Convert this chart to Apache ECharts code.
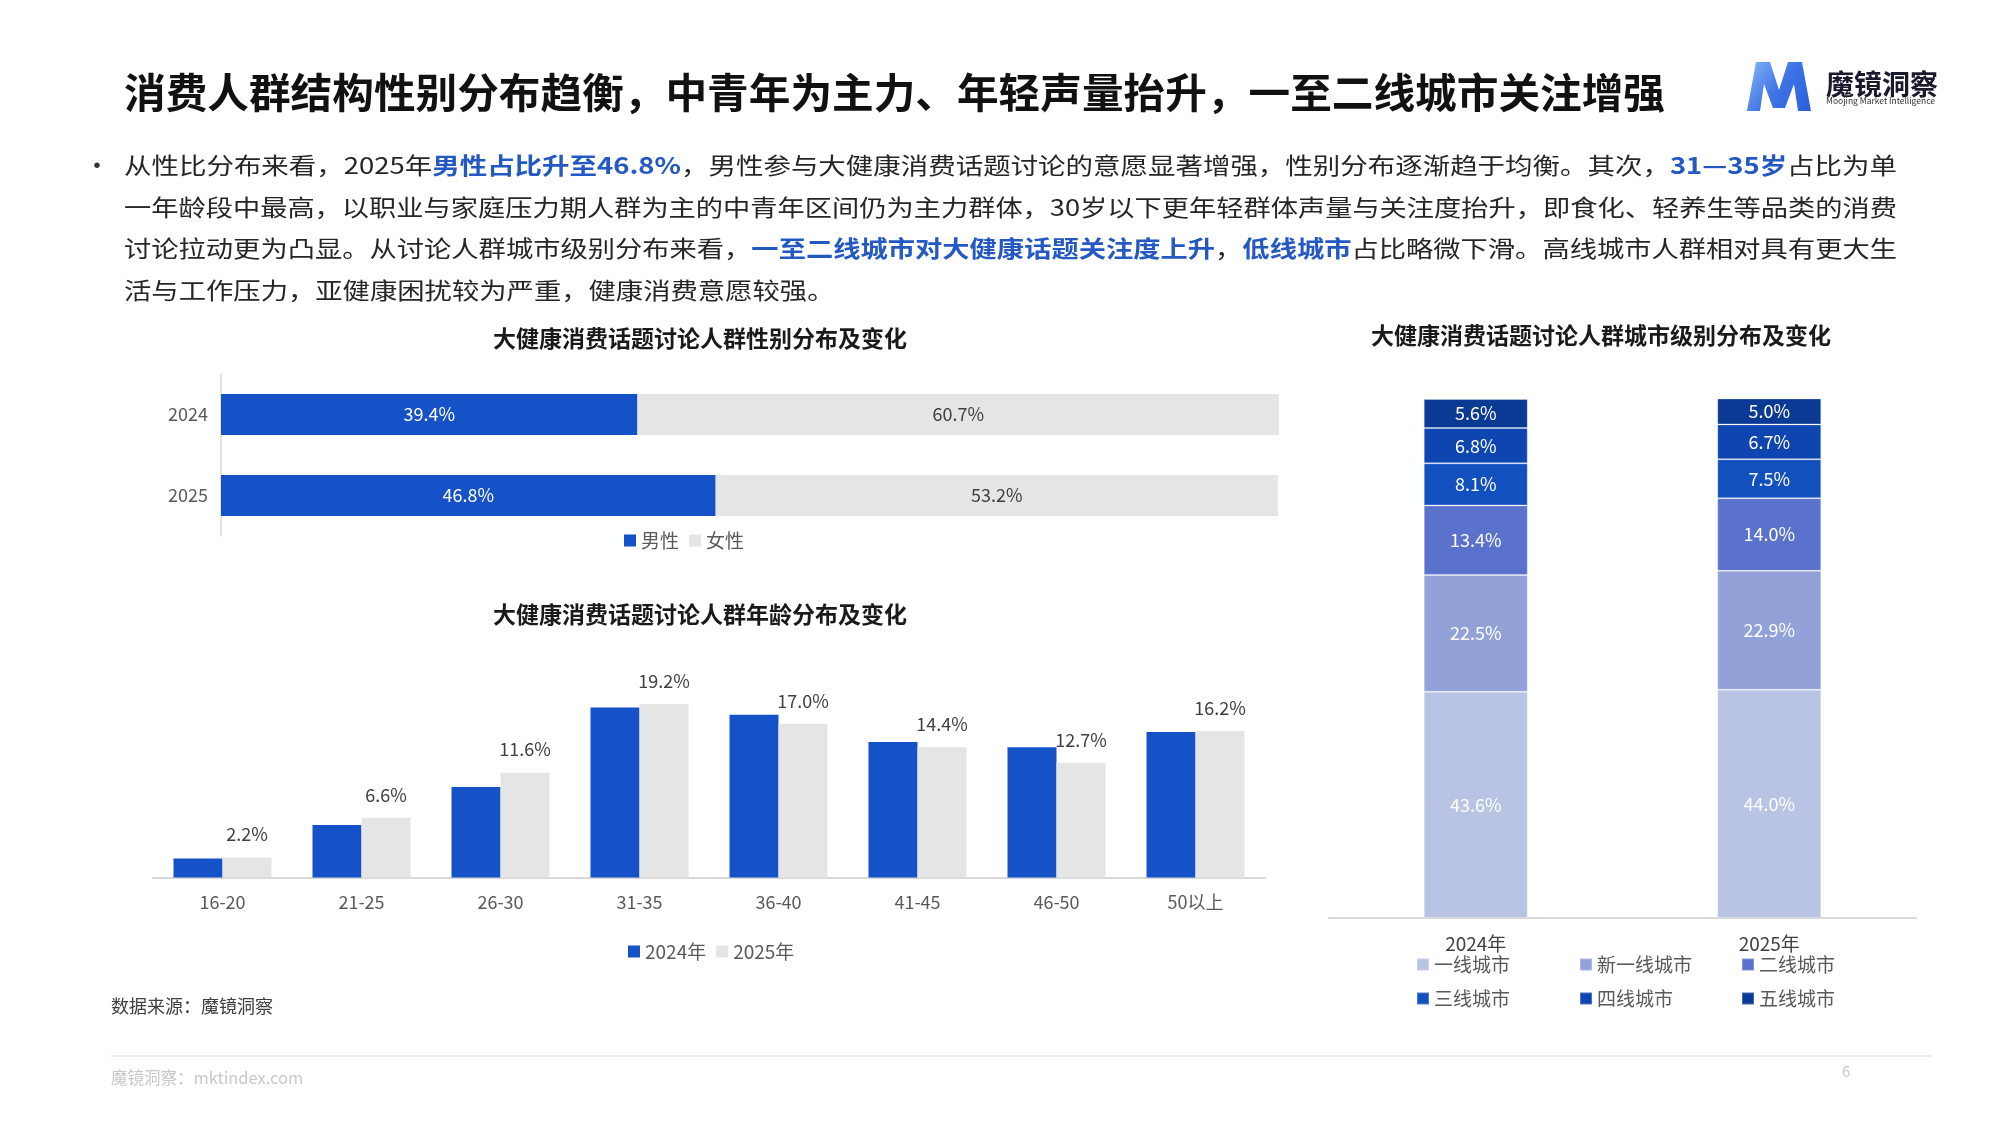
<!DOCTYPE html>
<html><head><meta charset="utf-8">
<script src="https://cdn.jsdelivr.net/npm/echarts@6/dist/echarts.min.js"></script>
<style>html,body{margin:0;padding:0;background:#fff}#c{width:2000px;height:1125px}</style>
</head><body><div id="c"></div>
<script>
// ---------- data ----------
const genderYears = ['2024', '2025'];
const maleShare = [39.4, 46.8];
const femaleShare = [60.7, 53.2];

const ageGroups = ['16-20', '21-25', '26-30', '31-35', '36-40', '41-45', '46-50', '50以上'];
const age2024 = [2.1, 5.8, 10.0, 18.8, 18.0, 15.0, 14.4, 16.1];
const age2025 = [2.2, 6.6, 11.6, 19.2, 17.0, 14.4, 12.7, 16.2];

const cityYears = ['2024年', '2025年'];
const cityTiers = ['一线城市', '新一线城市', '二线城市', '三线城市', '四线城市', '五线城市'];
const tier1 = [43.6, 44.0];
const tierNew1 = [22.5, 22.9];
const tier2 = [13.4, 14.0];
const tier3 = [8.1, 7.5];
const tier4 = [6.8, 6.7];
const tier5 = [5.6, 5.0];
const cityValues = [tier1, tierNew1, tier2, tier3, tier4, tier5];

// ---------- texts ----------
const mainTitle = '消费人群结构性别分布趋衡，中青年为主力、年轻声量抬升，一至二线城市关注增强';
const paraLines = [
  [['n', '从性比分布来看，2025年'], ['b', '男性占比升至46.8%'], ['n', '，男性参与大健康消费话题讨论的意愿显著增强，性别分布逐渐趋于均衡。其次，'], ['b', '31—35岁'], ['n', '占比为单']],
  [['n', '一年龄段中最高，以职业与家庭压力期人群为主的中青年区间仍为主力群体，30岁以下更年轻群体声量与关注度抬升，即食化、轻养生等品类的消费']],
  [['n', '讨论拉动更为凸显。从讨论人群城市级别分布来看，'], ['b', '一至二线城市对大健康话题关注度上升'], ['n', '，'], ['b', '低线城市'], ['n', '占比略微下滑。高线城市人群相对具有更大生']],
  [['n', '活与工作压力，亚健康困扰较为严重，健康消费意愿较强。']]
];

// ---------- styles ----------
const FONT = '"Noto Sans CJK SC","Noto Sans",sans-serif';
const BLUE = '#1552c7';
const GREY = '#e5e5e5';
const cityColors = ['#b9c3e3', '#93a1d9', '#5a72cc', '#1250c0', '#0f45b0', '#0b3a94'];

const mctx = document.createElement('canvas').getContext('2d');
function measure(t, size, weight) {
  mctx.font = (weight || 'normal') + ' ' + size + 'px ' + FONT;
  return mctx.measureText(t).width;
}

const PARA_SIZE = 23;
const graphics = [];

// main title
const titleSize = 41;
const tW = measure(mainTitle, titleSize, 'bold');
graphics.push({
  type: 'text', x: 124, y: 92, scaleX: 1541 / tW,
  style: { text: mainTitle, fontSize: titleSize, fontWeight: 'bold', fontFamily: FONT, fill: '#111', verticalAlign: 'middle', textAlign: 'left' }
});

// logo
graphics.push({
  type: 'polygon',
  shape: { points: [[1747, 111], [1756, 62], [1770, 62], [1779, 90], [1788, 62], [1802, 62], [1811, 111], [1798, 111], [1794, 84], [1785, 108], [1773, 108], [1764, 84], [1760, 111]] },
  style: { fill: new echarts.graphic.LinearGradient(0, 0, 1, 1, [{ offset: 0, color: '#86b6f8' }, { offset: 0.5, color: '#3f74e6' }, { offset: 1, color: '#2a5fd8' }]) }
});
graphics.push({ type: 'text', x: 1826, y: 84, style: { text: '魔镜洞察', fontSize: 28, fontWeight: 'bold', fontFamily: FONT, fill: '#1a1a2e', verticalAlign: 'middle' } });
graphics.push({ type: 'text', x: 1826, y: 101, style: { text: 'Moojing Market Intelligence', fontSize: 8.5, fontFamily: FONT, fill: '#333', verticalAlign: 'middle' } });

// bullet
graphics.push({ type: 'text', x: 84, y: 165, style: { text: '•', fontSize: 26, fontFamily: FONT, fill: '#333', verticalAlign: 'middle' } });

// paragraph
const lineYs = [165, 207, 248, 290];
let scales = [];
paraLines.forEach((segs, i) => {
  let w = 0;
  segs.forEach(s => { w += measure(s[1], PARA_SIZE, s[0] === 'b' ? 'bold' : 'normal'); });
  scales.push(1773 / w);
});
const avgScale = (scales[0] + scales[1] + scales[2]) / 3;
paraLines.forEach((segs, i) => {
  const str = segs.map(s => '{' + s[0] + '|' + s[1] + '}').join('');
  graphics.push({
    type: 'text', x: 124, y: lineYs[i], scaleX: i < 3 ? scales[i] : avgScale,
    style: {
      text: str, fontSize: PARA_SIZE, fontFamily: FONT, fill: '#262626', verticalAlign: 'middle', textAlign: 'left',
      rich: {
        n: { fontSize: PARA_SIZE, fontFamily: FONT, fill: '#262626', lineHeight: 30 },
        b: { fontSize: PARA_SIZE, fontFamily: FONT, fill: '#2459c4', fontWeight: 'bold', lineHeight: 30 }
      }
    }
  });
});

// chart titles
function subTitle(text, x, y) {
  graphics.push({ type: 'text', x: x, y: y, style: { text: text, fontSize: 23, fontWeight: 'bold', fontFamily: FONT, fill: '#1a1a1a', textAlign: 'center', verticalAlign: 'middle' } });
}
subTitle('大健康消费话题讨论人群性别分布及变化', 700, 338);
subTitle('大健康消费话题讨论人群年龄分布及变化', 700, 614);
subTitle('大健康消费话题讨论人群城市级别分布及变化', 1601, 335);

// source & footer
graphics.push({ type: 'text', x: 111, y: 1006, style: { text: '数据来源：魔镜洞察', fontSize: 18, fontFamily: FONT, fill: '#404040', verticalAlign: 'middle' } });
graphics.push({ type: 'line', shape: { x1: 111, y1: 1056, x2: 1932, y2: 1056 }, style: { stroke: '#eeeeee', lineWidth: 2 } });
graphics.push({ type: 'text', x: 111, y: 1078, style: { text: '魔镜洞察：mktindex.com', fontSize: 16.5, fontFamily: FONT, fill: '#c8c8c8', verticalAlign: 'middle' } });
graphics.push({ type: 'text', x: 1842, y: 1071, style: { text: '6', fontSize: 15, fontFamily: FONT, fill: '#c8c8c8', verticalAlign: 'middle' } });

// ---------- chart ----------
const chart = echarts.init(document.getElementById('c'), null, { renderer: 'canvas' });
const legendText = { fontSize: 19, color: '#595959', fontFamily: FONT };
const pct = p => p.value.toFixed(1) + '%';

const cityLegendPos = [[1411, 950], [1574, 950], [1736, 950], [1411, 984], [1574, 984], [1736, 984]];

const series = [
  {
    name: '男性', type: 'bar', xAxisIndex: 0, yAxisIndex: 0, stack: 'g', barWidth: 41,
    data: maleShare, itemStyle: { color: BLUE },
    label: { show: true, position: 'inside', color: '#fff', fontSize: 18, fontFamily: FONT, formatter: pct }
  },
  {
    name: '女性', type: 'bar', xAxisIndex: 0, yAxisIndex: 0, stack: 'g', barWidth: 41,
    data: femaleShare, itemStyle: { color: GREY },
    label: { show: true, position: 'inside', color: '#404040', fontSize: 18, fontFamily: FONT, formatter: pct }
  },
  {
    name: '2024年', type: 'bar', xAxisIndex: 1, yAxisIndex: 1, barWidth: 49, barGap: '0%',
    data: age2024, itemStyle: { color: BLUE }
  },
  {
    name: '2025年', type: 'bar', xAxisIndex: 1, yAxisIndex: 1, barWidth: 49, barGap: '0%',
    data: age2025, itemStyle: { color: GREY },
    label: { show: true, position: 'top', distance: 14, color: '#404040', fontSize: 18, fontFamily: FONT, formatter: pct }
  }
];
cityTiers.forEach((t, i) => {
  series.push({
    name: t, type: 'bar', xAxisIndex: 2, yAxisIndex: 2, stack: 'city', barWidth: 104,
    data: cityValues[i],
    itemStyle: { color: cityColors[i], borderColor: 'rgba(255,255,255,0.25)', borderWidth: 1 },
    label: { show: true, position: 'inside', color: '#fff', fontSize: 18, fontFamily: FONT, formatter: pct }
  });
});

const legends = [
  { data: ['男性', '女性'], left: 619, top: 526, itemWidth: 12, itemHeight: 12, itemGap: 10, itemTextGap: 4, icon: 'rect', textStyle: legendText },
  { data: ['2024年', '2025年'], left: 623, top: 937, itemWidth: 12, itemHeight: 12, itemGap: 10, itemTextGap: 4, icon: 'rect', textStyle: legendText }
];
cityTiers.forEach((t, i) => {
  legends.push({ data: [t], left: cityLegendPos[i][0], top: cityLegendPos[i][1], itemWidth: 12, itemHeight: 12, icon: 'rect', textStyle: legendText });
});

chart.setOption({
  animation: false,
  backgroundColor: '#ffffff',
  textStyle: { fontFamily: FONT },
  graphic: { elements: graphics },
  legend: legends,
  grid: [
    { left: 221, top: 374, width: 1058, height: 162 },
    { left: 153, top: 696.7, width: 1112, height: 180.8 },
    { left: 1329, top: 399, width: 587, height: 519 }
  ],
  xAxis: [
    { type: 'value', gridIndex: 0, min: 0, max: 100.1, show: false },
    {
      type: 'category', gridIndex: 1, data: ageGroups,
      axisLine: { lineStyle: { color: '#d9d9d9', width: 2 } }, axisTick: { show: false },
      axisLabel: { color: '#595959', fontSize: 18, margin: 16, fontFamily: FONT }
    },
    {
      type: 'category', gridIndex: 2, data: cityYears,
      axisLine: { lineStyle: { color: '#d9d9d9', width: 2 } }, axisTick: { show: false },
      axisLabel: { color: '#404040', fontSize: 19, margin: 16, fontFamily: FONT }
    }
  ],
  yAxis: [
    {
      type: 'category', gridIndex: 0, data: genderYears, inverse: true,
      axisLine: { lineStyle: { color: '#d9d9d9', width: 1.5 } }, axisTick: { show: false },
      axisLabel: { color: '#595959', fontSize: 18, margin: 13, fontFamily: FONT }
    },
    { type: 'value', gridIndex: 1, min: 0, max: 20, show: false, splitLine: { show: false } },
    { type: 'value', gridIndex: 2, min: 0, max: 100, show: false, splitLine: { show: false } }
  ],
  series: series
});
</script>
</body></html>
